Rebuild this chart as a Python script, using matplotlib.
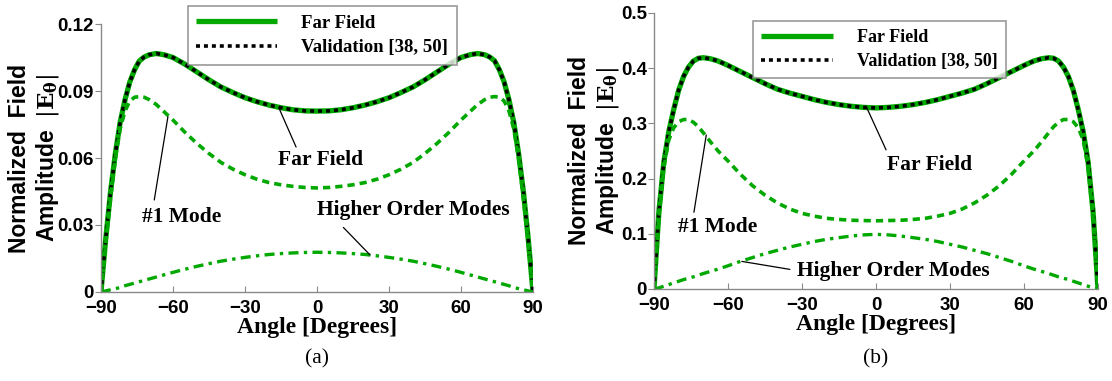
import matplotlib
matplotlib.use("Agg")
import matplotlib.pyplot as plt

plt.rcParams["mathtext.fontset"] = "dejavuserif"

# angle grid shared by every curve (degrees)
theta = [-90, -88, -86, -84, -82, -80, -78, -76, -74, -72, -70, -67, -64, -60,
         -55, -50, -45, -40, -35, -30, -25, -20, -15, -10, -5, 0,
         5, 10, 15, 20, 25, 30, 35, 40, 45, 50, 55, 60, 64, 67, 70,
         72, 74, 76, 78, 80, 82, 84, 86, 88, 90]

# (a)
far_a = [0, 0.024, 0.045, 0.062, 0.076, 0.086, 0.094, 0.0995, 0.1035, 0.1052, 0.1062, 0.1068, 0.1063, 0.1050,
         0.1020, 0.0985, 0.0950, 0.0918, 0.0893, 0.0870, 0.0852, 0.0837, 0.0825, 0.0816, 0.0811, 0.0810,
         0.0811, 0.0816, 0.0825, 0.0837, 0.0852, 0.0870, 0.0893, 0.0918, 0.0950, 0.0985, 0.1020, 0.1050, 0.1063, 0.1068, 0.1062,
         0.1052, 0.1035, 0.0995, 0.094, 0.086, 0.076, 0.062, 0.045, 0.024, 0]
mode1_a = [0, 0.022, 0.042, 0.060, 0.073, 0.081, 0.0855, 0.0872, 0.0875, 0.0872, 0.0862, 0.0840, 0.0810, 0.0770,
           0.0715, 0.0665, 0.0620, 0.0580, 0.0550, 0.0525, 0.0505, 0.0490, 0.0480, 0.0473, 0.0468, 0.0466,
           0.0468, 0.0473, 0.0480, 0.0490, 0.0505, 0.0525, 0.0550, 0.0580, 0.0620, 0.0665, 0.0715, 0.0770, 0.0810, 0.0840, 0.0862,
           0.0872, 0.0875, 0.0872, 0.0855, 0.081, 0.073, 0.060, 0.042, 0.022, 0]
higher_a = [0, 0.0005, 0.0010, 0.0015, 0.0020, 0.0028, 0.0034, 0.0040, 0.0046, 0.0052, 0.0058, 0.0067, 0.0076, 0.0088,
            0.0102, 0.0115, 0.0127, 0.0138, 0.0147, 0.0155, 0.0162, 0.0168, 0.0172, 0.0175, 0.0177, 0.0178,
            0.0177, 0.0175, 0.0172, 0.0168, 0.0162, 0.0155, 0.0147, 0.0138, 0.0127, 0.0115, 0.0102, 0.0088, 0.0076, 0.0067, 0.0058,
            0.0052, 0.0046, 0.0040, 0.0034, 0.0028, 0.0020, 0.0015, 0.0010, 0.0005, 0]

# (b)
far_b = [0, 0.14, 0.23, 0.285, 0.325, 0.36, 0.385, 0.402, 0.413, 0.418, 0.419, 0.417, 0.413, 0.405,
         0.394, 0.383, 0.372, 0.362, 0.355, 0.349, 0.343, 0.338, 0.334, 0.331, 0.329, 0.328,
         0.329, 0.331, 0.334, 0.338, 0.343, 0.349, 0.355, 0.362, 0.372, 0.383, 0.394, 0.405, 0.413, 0.417, 0.419,
         0.418, 0.413, 0.402, 0.385, 0.36, 0.325, 0.285, 0.23, 0.14, 0]
mode1_b = [0, 0.13, 0.22, 0.27, 0.292, 0.303, 0.307, 0.307, 0.302, 0.294, 0.283, 0.266, 0.250, 0.232,
           0.208, 0.187, 0.170, 0.156, 0.145, 0.137, 0.132, 0.128, 0.126, 0.1245, 0.124, 0.1235,
           0.124, 0.1245, 0.126, 0.128, 0.132, 0.137, 0.145, 0.156, 0.170, 0.187, 0.208, 0.232, 0.250, 0.266, 0.283,
           0.294, 0.302, 0.307, 0.307, 0.303, 0.292, 0.27, 0.22, 0.13, 0]
higher_b = [0, 0.002, 0.005, 0.008, 0.011, 0.014, 0.017, 0.0195, 0.022, 0.025, 0.028, 0.032, 0.036, 0.042,
            0.050, 0.057, 0.064, 0.070, 0.076, 0.081, 0.086, 0.090, 0.093, 0.096, 0.098, 0.099,
            0.098, 0.096, 0.093, 0.090, 0.086, 0.081, 0.076, 0.070, 0.064, 0.057, 0.050, 0.042, 0.036, 0.032, 0.028,
            0.025, 0.022, 0.0195, 0.017, 0.014, 0.011, 0.008, 0.005, 0.002, 0]

xticks = [-90, -60, -30, 0, 30, 60, 90]
yticks_a = [0, 0.03, 0.06, 0.09, 0.12]
yticks_b = [0, 0.1, 0.2, 0.3, 0.4, 0.5]
yticklabels_a = ["0", "0.03", "0.06", "0.09", "0.12"]
yticklabels_b = ["0", "0.1", "0.2", "0.3", "0.4", "0.5"]

GREEN = "#00a800"
SANS = "Liberation Sans"
SERIF = "Liberation Serif"

fig = plt.figure(figsize=(11.12, 3.81), dpi=100)
ax_a = fig.add_axes([0.0908, 0.2336, 0.3885, 0.7034])
ax_b = fig.add_axes([0.5881, 0.2415, 0.3993, 0.7244])


def draw_panel(ax, far, mode1, higher, yticks, yticklabels, ylim):
    ff, = ax.plot(theta, far, color=GREEN, lw=3.8, solid_capstyle="butt", label="Far Field")
    val, = ax.plot(theta, far, color="black", lw=2.6, linestyle=(0, (1.1, 1.1)),
                   label="Validation [38, 50]")
    ax.plot(theta, mode1, color=GREEN, lw=2.6, linestyle=(0, (2.0, 1.4)))
    ax.plot(theta, higher, color=GREEN, lw=2.4, linestyle=(0, (3.0, 1.6, 1.0, 1.6)))
    ax.set_xlim(-90, 90)
    ax.set_ylim(*ylim)
    ax.set_xticks(xticks)
    ax.set_yticks(yticks)
    ax.set_yticklabels(yticklabels)
    for s in ("top", "right"):
        ax.spines[s].set_visible(False)
    for s in ("left", "bottom"):
        ax.spines[s].set_color("#8a8a8a")
        ax.spines[s].set_linewidth(1.0)
    ax.tick_params(axis="x", direction="in", length=4, color="#8a8a8a", pad=5.5)
    ax.tick_params(axis="y", direction="out", length=4, color="#8a8a8a", pad=1)
    for lab in ax.get_xticklabels() + ax.get_yticklabels():
        lab.set_fontfamily(SANS)
        lab.set_fontweight("bold")
        lab.set_fontsize(13.5)
    ax.set_xlabel("Angle [Degrees]", fontfamily=SERIF, fontweight="bold", fontsize=17, labelpad=0)
    ax.set_ylabel("Normalized  Field\nAmplitude  $|\\mathbf{E_{\\theta}}|$", fontfamily=SANS,
                  fontweight="bold", fontsize=16.5, linespacing=1.15)
    ax.yaxis.label.set_va("center")
    return ff, val


def label(ax, text, pos, start, tip):
    ax.annotate("", xy=tip, xytext=start,
                arrowprops=dict(arrowstyle="-", color="black", lw=0.9, shrinkA=0, shrinkB=0))
    ax.text(pos[0], pos[1], text, ha="center", va="center", fontfamily=SERIF,
            fontweight="bold", fontsize=15.5)


h_a = draw_panel(ax_a, far_a, mode1_a, higher_a, yticks_a, yticklabels_a, (0, 0.12))
h_b = draw_panel(ax_b, far_b, mode1_b, higher_b, yticks_b, yticklabels_b, (0, 0.5))
ax_a.yaxis.set_label_coords(-0.153, 0.5)
ax_b.yaxis.set_label_coords(-0.133, 0.5)

label(ax_a, "Far Field", (1.5, 0.059), (-8.7, 0.0649), (-15.9, 0.0825))
label(ax_a, "#1 Mode", (-56.4, 0.0337), (-67.8, 0.0412), (-62.1, 0.0785))
label(ax_a, "Higher Order Modes", (40, 0.0367), (11, 0.0289), (22.1, 0.0166))

label(ax_b, "Far Field", (21.8, 0.225), (4.1, 0.252), (-3.8, 0.329))
label(ax_b, "#1 Mode", (-64.2, 0.112), (-73.8, 0.139), (-68.8, 0.279))
label(ax_b, "Higher Order Modes", (7, 0.032), (-34.9, 0.0355), (-54.4, 0.0500))

# legends placed in figure coordinates
for ax, h, anchor, size, hlen in ((ax_a, h_a, (0.169, 0.984), 13.5, 4.3),
                                  (ax_b, h_b, (0.677, 0.945), 13, 4.0)):
    leg = ax.legend(handles=list(h), bbox_to_anchor=anchor, bbox_transform=fig.transFigure,
                    loc="upper left", borderaxespad=0, frameon=True, fancybox=False,
                    handlelength=hlen, handletextpad=1.3, borderpad=0.45, labelspacing=0.4,
                    prop=dict(family=SERIF, weight="bold", size=size))
    leg.get_frame().set_edgecolor("#808080")
    leg.get_frame().set_linewidth(1.2)

fig.text(0.2853, 0.058, "(a)", ha="center", va="center", fontfamily=SERIF, fontsize=15.5)
fig.text(0.7877, 0.058, "(b)", ha="center", va="center", fontfamily=SERIF, fontsize=15.5)

fig.savefig("out.png", dpi=100)
